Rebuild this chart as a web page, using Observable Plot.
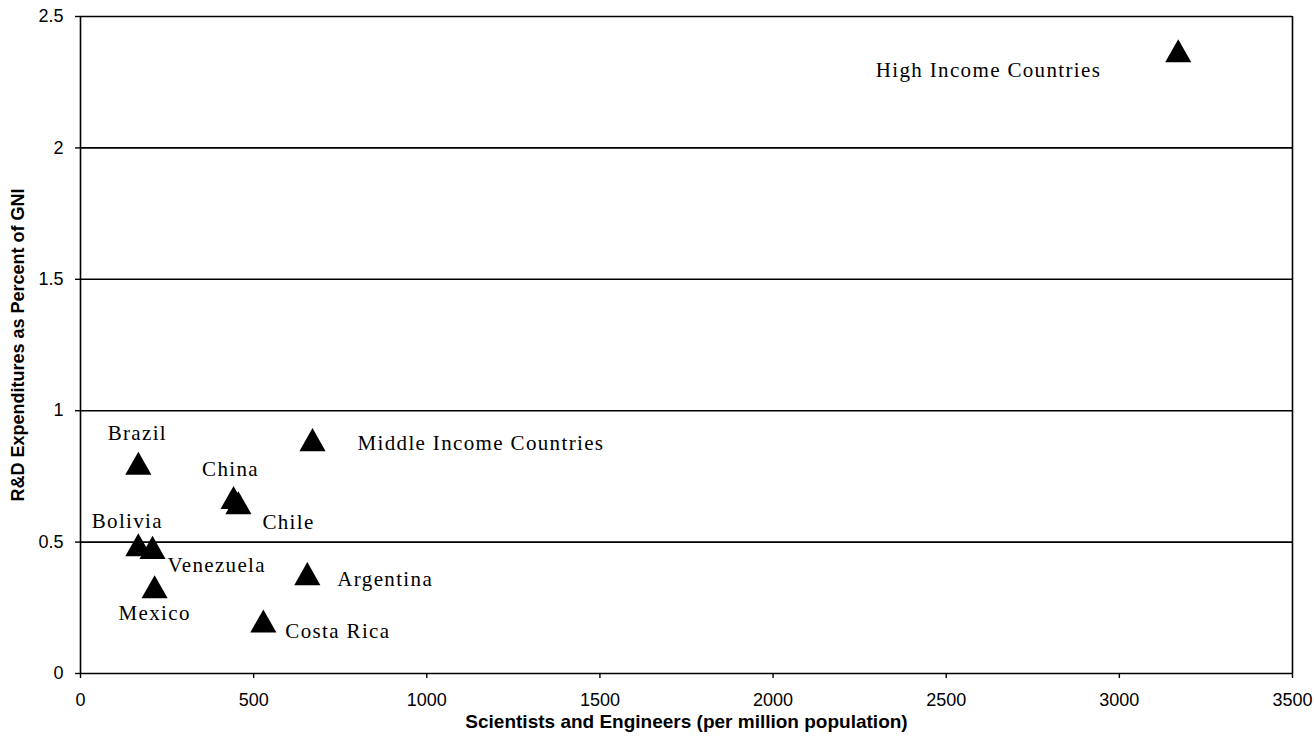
<!DOCTYPE html>
<html><head><meta charset="utf-8">
<script src="https://cdn.jsdelivr.net/npm/d3@7"></script>
<script src="https://cdn.jsdelivr.net/npm/@observablehq/plot@0.6"></script>
<style>
body{margin:0;background:#fff;}
#chart svg{display:block;}
</style>
</head><body><div id="chart"></div>
<script>
// ---- data ----
const countries = ["High Income Countries","Middle Income Countries","Brazil","China","Chile","Bolivia","Venezuela","Mexico","Argentina","Costa Rica"];
const scientists = [3170, 670, 167, 442, 456, 167, 208, 214, 655, 528];
const rdPercent  = [2.37, 0.89, 0.80, 0.67, 0.65, 0.49, 0.48, 0.33, 0.38, 0.20];
const xTicks = [0, 500, 1000, 1500, 2000, 2500, 3000, 3500];
const xTickLabels = ["0", "500", "1000", "1500", "2000", "2500", "3000", "3500"];
const yTicks = [0, 0.5, 1, 1.5, 2, 2.5];
const yTickLabels = ["0", "0.5", "1", "1.5", "2", "2.5"];
const xTitle = "Scientists and Engineers (per million population)";
const yTitle = "R&D Expenditures as Percent of GNI";

// label placement (styling, not data)
const labelAnchor = ["end","start","middle","middle","start","middle","start","middle","start","start"];
const labelDx = [-77, 45, -1, -3, 24, -11, 15, 0, 30, 22];
const labelDy = [20, 4, -30, -28, 20, -23, 18, 26, 6, 10];

const rows = countries.map((c, i) => ({country: c, x: scientists[i], y: rdPercent[i]}));

const tri = {
  draw(context, size) {
    const r = Math.sqrt(size / Math.PI);
    const w = 1.36 * r, h = 2.4 * r;
    context.moveTo(0, -h / 2);
    context.lineTo(w, h / 2);
    context.lineTo(-w, h / 2);
    context.closePath();
  }
};

const labelFont = "'Liberation Serif', 'Times New Roman', serif";
const axisFont = "'Liberation Sans', Arial, sans-serif";

const chart = Plot.plot({
  width: 1314,
  height: 742,
  marginLeft: 80,
  marginRight: 22,
  marginTop: 16,
  marginBottom: 69,
  style: {fontFamily: axisFont, fontSize: "18px", color: "#000", background: "#fff"},
  x: {domain: [0, 3500], label: null},
  y: {domain: [0, 2.5], label: null},
  marks: [
    Plot.ruleY(yTicks, {stroke: "#000", strokeWidth: 1.6}),
    Plot.ruleX([0, 3500], {stroke: "#000", strokeWidth: 1.6}),
    Plot.axisX({ticks: xTicks, tickSize: 5, tickPadding: 15, stroke: "#000", strokeWidth: 1.4, fontSize: 18,
                tickFormat: (d) => xTickLabels[xTicks.indexOf(d)]}),
    Plot.axisY({ticks: yTicks, tickSize: 5, tickPadding: 12, stroke: "#000", strokeWidth: 1.4, fontSize: 18,
                tickFormat: (d) => yTickLabels[yTicks.indexOf(d)]}),
    Plot.dot(rows, {x: "x", y: "y", symbol: tri, r: 9.6, fill: "#000", stroke: "none"}),
    ...rows.map((d, i) => Plot.text([d], {
      x: "x", y: "y", text: "country",
      dx: labelDx[i], dy: labelDy[i], textAnchor: labelAnchor[i],
      fontFamily: labelFont, fontSize: 21, fill: "#000"
    })),
    Plot.text([xTitle], {frameAnchor: "bottom", lineAnchor: "middle", textAnchor: "middle", dy: 48,
      fontFamily: axisFont, fontWeight: "bold", fontSize: 19, fill: "#000", text: d => d}),
    Plot.text([yTitle], {frameAnchor: "left", lineAnchor: "middle", textAnchor: "middle", dx: -62, rotate: -90,
      fontFamily: axisFont, fontWeight: "bold", fontSize: 18, fill: "#000", text: d => d})
  ]
});

// widen the serif point labels a little, like the original typeface
const labelSet = new Set(countries);
d3.select(chart).selectAll("text")
  .filter(function () { return labelSet.has(this.textContent); })
  .attr("letter-spacing", "1.35px");

document.getElementById("chart").appendChild(chart);
</script>
</body></html>
